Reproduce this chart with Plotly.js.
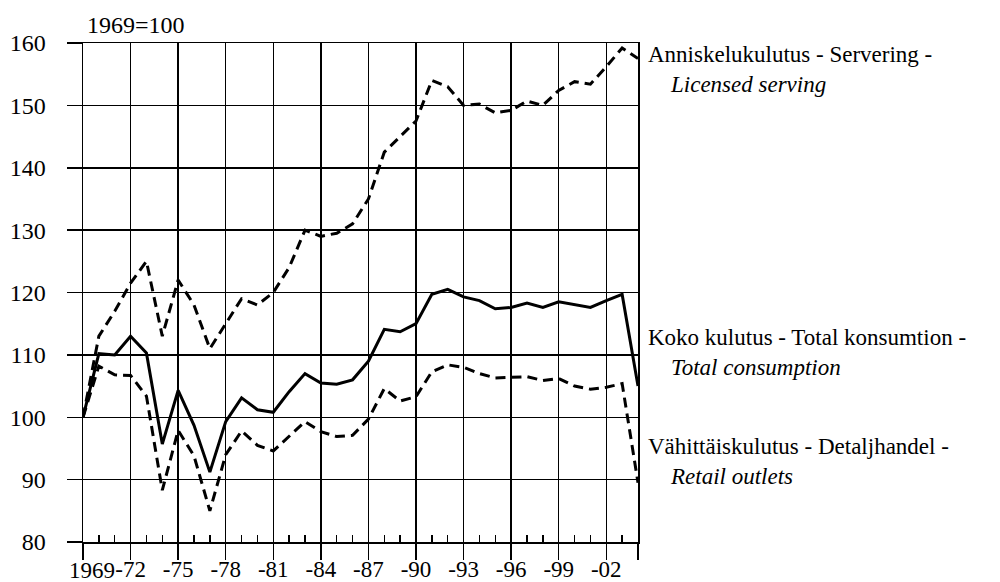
<!DOCTYPE html>
<html>
<head>
<meta charset="utf-8">
<script src="https://cdn.plot.ly/plotly-3.0.1.min.js"></script>
<style>html,body{margin:0;padding:0;background:#fff;}#chart{width:1000px;height:582px;}</style>
</head>
<body>
<div id="chart"></div>
<script>
var years = [];
for (var yr = 1969; yr <= 2004; yr++) years.push(yr);

var serving = [100,113,117,121.5,125,113,122,118,111,115,119,118,120,124,130,129,129.5,131,135,142.5,145,147.5,154,153,150,150.2,148.8,149.2,150.7,150,152.4,153.8,153.4,156.2,159.2,157.5];
var total = [100,110.2,110,113,110.3,95.7,104.3,98.7,91.2,99.3,103.1,101.2,100.8,104.1,107,105.5,105.3,106,109,114.1,113.7,115,119.7,120.5,119.3,118.7,117.4,117.6,118.3,117.6,118.5,118,117.6,118.7,119.7,105];
var retail = [100,108.2,106.8,106.7,103.4,88.3,97.9,93.8,85,94,97.8,95.5,94.6,97,99.3,97.7,96.9,97.1,99.7,104.6,102.6,103.3,107.3,108.4,108,107,106.3,106.4,106.5,105.9,106.2,105,104.5,104.8,105.4,89.5];

var xTickVals = [1969,1972,1975,1978,1981,1984,1987,1990,1993,1996,1999,2002,2004];
var xTickText = ['', '-72','-75','-78','-81','-84','-87','-90','-93','-96','-99','-02',''];
var firstYearLabel = '1969';
var yTickVals = [80,90,100,110,120,130,140,150,160];
var baseNote = '1969=100';

var labels = [
  {line1: 'Anniskelukulutus - Servering -', line2: 'Licensed serving', y: 155.7},
  {line1: 'Koko kulutus - Total konsumtion -', line2: 'Total consumption', y: 110.4},
  {line1: 'Vähittäiskulutus - Detaljhandel -', line2: 'Retail outlets', y: 92.9}
];

var minorVals = years.filter(function(v){ return (v - 1969) % 3 !== 0 && v < 2004; });

var FONT = 'Liberation Serif, Times New Roman, serif';

var traces = [
  {x: years, y: serving, mode: 'lines', line: {color: '#000', width: 3, dash: '10px,6px'}, hoverinfo: 'skip'},
  {x: years, y: total, mode: 'lines', line: {color: '#000', width: 3}, hoverinfo: 'skip'},
  {x: years, y: retail, mode: 'lines', line: {color: '#000', width: 3, dash: '10px,6px'}, hoverinfo: 'skip'},
  {x: [years[0]], y: [total[0]], xaxis: 'x2', mode: 'none', hoverinfo: 'skip'}
];

var annotations = [
  {xref: 'paper', yref: 'paper', x: 0, y: 1, xanchor: 'left', yanchor: 'middle', xshift: 2, yshift: 18,
   text: baseNote, showarrow: false, font: {family: FONT, size: 24, color: '#000'}},
  {xref: 'x', yref: 'paper', x: 1969, y: 0, xanchor: 'center', yanchor: 'middle', xshift: 9, yshift: -28,
   text: firstYearLabel, showarrow: false, font: {family: FONT, size: 23, color: '#000'}}
];
labels.forEach(function(l){
  annotations.push({xref: 'paper', yref: 'y', x: 1, y: l.y, xanchor: 'left', yanchor: 'middle', xshift: 8, align: 'left',
    text: l.line1 + '<br>\u00a0\u00a0\u00a0\u00a0<i>' + l.line2 + '</i>', showarrow: false,
    font: {family: FONT, size: 23, color: '#000'}});
});

var layout = {
  width: 1000, height: 582,
  margin: {l: 83, r: 362, t: 43, b: 40},
  paper_bgcolor: '#fff', plot_bgcolor: '#fff',
  showlegend: false,
  font: {family: FONT, size: 24, color: '#000'},
  xaxis: {
    range: [1969, 2004], tickmode: 'array', tickvals: xTickVals, ticktext: xTickText,
    ticks: 'outside', ticklen: 16, tickwidth: 1.5, tickcolor: '#000',
    showgrid: true, gridcolor: '#000', gridwidth: 1.5,
    showline: true, linecolor: '#000', linewidth: 1.5, mirror: true,
    zeroline: false, fixedrange: true, ticklabelstandoff: -10,
    tickfont: {family: FONT, size: 23, color: '#000'}
  },
  xaxis2: {
    overlaying: 'x', anchor: 'y', side: 'bottom', range: [1969, 2004],
    tickmode: 'array', tickvals: minorVals, ticks: 'inside', ticklen: 7, tickwidth: 1.5, tickcolor: '#000',
    showticklabels: false, showgrid: false, showline: false, zeroline: false, fixedrange: true
  },
  yaxis: {
    range: [80, 160], tickmode: 'array', tickvals: yTickVals,
    ticks: 'outside', ticklen: 15, tickwidth: 1.5, tickcolor: '#000',
    showgrid: true, gridcolor: '#000', gridwidth: 1.5,
    showline: true, linecolor: '#000', linewidth: 1.5, mirror: true,
    zeroline: false, fixedrange: true, ticklabelstandoff: 16,
    tickfont: {family: FONT, size: 24, color: '#000'}
  },
  annotations: annotations
};

Plotly.newPlot('chart', traces, layout, {staticPlot: true, displayModeBar: false});
</script>
</body>
</html>
